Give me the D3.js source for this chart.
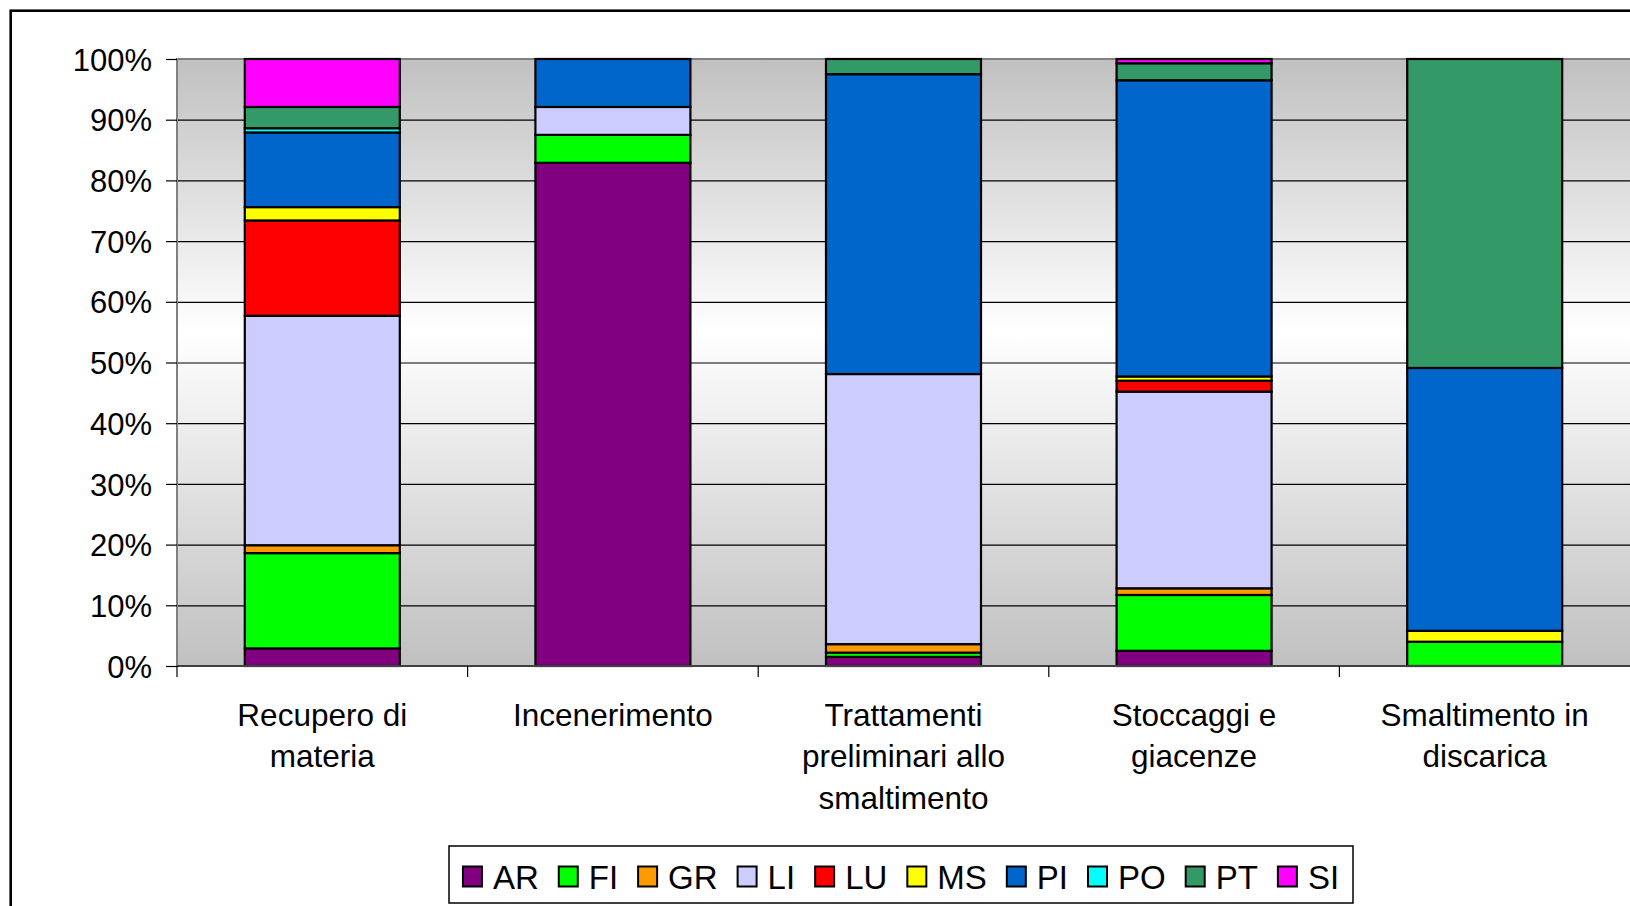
<!DOCTYPE html>
<html>
<head>
<meta charset="utf-8">
<script src="https://cdn.jsdelivr.net/npm/d3@7"></script>
<style>
  body { margin: 0; background: #fff; }
  svg { display: block; font-family: "Liberation Sans", Arial, sans-serif; }
</style>
</head>
<body>
<div id="chart"></div>
<script>
// Categories (x axis), lines split on '\n'.
var categories = [
  'Recupero di\nmateria',
  'Incenerimento',
  'Trattamenti\npreliminari allo\nsmaltimento',
  'Stoccaggi e\ngiacenze',
  'Smaltimento in\ndiscarica'
];

// Provinces, stacked from the bottom up.
var provinces = ['AR', 'FI', 'GR', 'LI', 'LU', 'MS', 'PI', 'PO', 'PT', 'SI'];
var colors = ['#800080', '#00ff00', '#ff9900', '#ccccff', '#ff0000', '#ffff00', '#0066cc', '#00ffff', '#339966', '#ff00ff'];

// Share (%) per category.
var AR = [2.9, 82.9, 1.5, 2.5, 0];
var FI = [15.7, 4.6, 0.7, 9.2, 4.0];
var GR = [1.3, 0, 1.4, 1.1, 0];
var LI = [37.8, 4.6, 44.5, 32.4, 0];
var LU = [15.7, 0, 0, 1.8, 0];
var MS = [2.2, 0, 0, 0.7, 1.8];
var PI = [12.3, 7.9, 49.4, 48.8, 43.3];
var PO = [0.7, 0, 0, 0, 0];
var PT = [3.5, 0, 2.5, 2.8, 50.9];
var SI = [7.9, 0, 0, 0.7, 0];

var yTicks = [0, 0.1, 0.2, 0.3, 0.4, 0.5, 0.6, 0.7, 0.8, 0.9, 1];

var seriesValues = { AR: AR, FI: FI, GR: GR, LI: LI, LU: LU, MS: MS, PI: PI, PO: PO, PT: PT, SI: SI };

var rows = categories.map(function(c, i) {
  var r = { cat: c };
  provinces.forEach(function(p) { r[p] = seriesValues[p][i]; });
  return r;
});

var W = 1630, H = 906;
var plot = { left: 177, right: 1630, top: 59, bottom: 666 };

var svg = d3.select('#chart').append('svg')
  .attr('width', W)
  .attr('height', H);

// Outer chart border (right and bottom fall outside the crop).
svg.append('rect')
  .attr('x', 10.7).attr('y', 10.7)
  .attr('width', 1700).attr('height', 1000)
  .attr('fill', '#fff')
  .attr('stroke', '#000')
  .attr('stroke-width', 2.6);

var defs = svg.append('defs');
var grad = defs.append('linearGradient')
  .attr('id', 'bg')
  .attr('x1', 0).attr('y1', 0).attr('x2', 0).attr('y2', 1);
grad.append('stop').attr('offset', '0%').attr('stop-color', '#c0c0c0');
grad.append('stop').attr('offset', '45%').attr('stop-color', '#ffffff');
grad.append('stop').attr('offset', '100%').attr('stop-color', '#c0c0c0');

var x = d3.scaleBand()
  .domain(categories)
  .range([plot.left, plot.right])
  .paddingInner(0.4666)
  .paddingOuter(0.2333);

var y = d3.scaleLinear()
  .domain([0, 1])
  .range([plot.bottom, plot.top]);

// Plot area background.
svg.append('rect')
  .attr('x', plot.left).attr('y', plot.top)
  .attr('width', plot.right - plot.left)
  .attr('height', plot.bottom - plot.top)
  .attr('fill', 'url(#bg)');

// Grid lines.
var grid = d3.axisLeft(y)
  .tickValues(yTicks)
  .tickFormat('')
  .tickSizeInner(-(plot.right - plot.left))
  .tickSizeOuter(0);

svg.append('g')
  .attr('class', 'grid')
  .attr('transform', 'translate(' + plot.left + ',0)')
  .call(grid)
  .call(function(g) {
    g.select('.domain').remove();
    g.selectAll('line').attr('stroke', '#000').attr('stroke-width', 1.2);
  });

// Plot area border (left and top).
svg.append('path')
  .attr('d', 'M' + plot.left + ',' + plot.bottom + 'V' + plot.top + 'H' + (plot.right + 5))
  .attr('fill', 'none')
  .attr('stroke', '#808080')
  .attr('stroke-width', 2);

// Stacked bars.
var stack = d3.stack()
  .keys(provinces)
  .offset(d3.stackOffsetExpand);

var layers = stack(rows);

svg.append('g')
  .attr('class', 'bars')
  .selectAll('g')
  .data(layers)
  .join('g')
  .attr('fill', function(d, i) { return colors[i]; })
  .selectAll('rect')
  .data(function(d) { return d.filter(function(s) { return s[1] - s[0] > 0; }); })
  .join('rect')
  .attr('x', function(d) { return x(d.data.cat); })
  .attr('width', x.bandwidth())
  .attr('y', function(d) { return y(d[1]); })
  .attr('height', function(d) { return y(d[0]) - y(d[1]); })
  .attr('stroke', '#000')
  .attr('stroke-width', 2.2);

// Y axis.
var yAxis = d3.axisLeft(y)
  .tickValues(yTicks)
  .tickFormat(d3.format('.0%'))
  .tickSizeInner(11)
  .tickSizeOuter(0)
  .tickPadding(14);

svg.append('g')
  .attr('class', 'y axis')
  .attr('transform', 'translate(' + plot.left + ',0)')
  .call(yAxis)
  .call(function(g) {
    g.select('.domain').remove();
    g.selectAll('line').attr('stroke', '#000').attr('stroke-width', 1.2);
    g.selectAll('text')
      .attr('font-size', 31)
      .attr('font-family', '"Liberation Sans", Arial, sans-serif')
      .attr('fill', '#000')
      .attr('dy', '0.36em');
  });

// X axis: baseline plus tick marks on category boundaries.
svg.append('line')
  .attr('x1', plot.left).attr('x2', plot.right)
  .attr('y1', plot.bottom).attr('y2', plot.bottom)
  .attr('stroke', '#404040')
  .attr('stroke-width', 2);

var gap = (x.step() - x.bandwidth()) / 2;
svg.append('g')
  .attr('class', 'x ticks')
  .selectAll('line')
  .data(categories)
  .join('line')
  .attr('x1', function(d) { return x(d) - gap; })
  .attr('x2', function(d) { return x(d) - gap; })
  .attr('y1', plot.bottom)
  .attr('y2', plot.bottom + 11)
  .attr('stroke', '#000')
  .attr('stroke-width', 1.2);

var xLabels = svg.append('g')
  .attr('class', 'x labels')
  .selectAll('text')
  .data(categories)
  .join('text')
  .attr('x', function(d) { return x(d) + x.bandwidth() / 2; })
  .attr('y', 725.5)
  .attr('text-anchor', 'middle')
  .attr('font-size', 31.5)
  .attr('fill', '#000');

xLabels.selectAll('tspan')
  .data(function(d) { return d.split('\n'); })
  .join('tspan')
  .attr('x', function() { return d3.select(this.parentNode).attr('x'); })
  .attr('dy', function(d, i) { return i === 0 ? 0 : 41.5; })
  .text(function(d) { return d; });

// Legend.
var legend = svg.append('g').attr('class', 'legend');
var legendBox = legend.append('rect')
  .attr('fill', '#fff')
  .attr('stroke', '#000')
  .attr('stroke-width', 1.5);

var items = legend.selectAll('g')
  .data(provinces)
  .join('g');

items.append('rect')
  .attr('width', 19)
  .attr('height', 20)
  .attr('y', 866.5)
  .attr('fill', function(d, i) { return colors[i]; })
  .attr('stroke', '#000')
  .attr('stroke-width', 2);

items.append('text')
  .attr('x', 30)
  .attr('y', 889)
  .attr('font-size', 33)
  .attr('fill', '#000')
  .text(function(d) { return d; });

var cx = 0;
var offsets = [];
items.each(function() {
  var tw = d3.select(this).select('text').node().getComputedTextLength();
  offsets.push(cx);
  cx += 30 + tw + 20;
});
var contentW = cx - 20;
var legendCenter = 901;
var startX = legendCenter - contentW / 2;

items.attr('transform', function(d, i) { return 'translate(' + (startX + offsets[i]) + ',0)'; });

legendBox
  .attr('x', 449)
  .attr('y', 846)
  .attr('width', 1353 - 449)
  .attr('height', 903 - 846);
</script>
</body>
</html>
